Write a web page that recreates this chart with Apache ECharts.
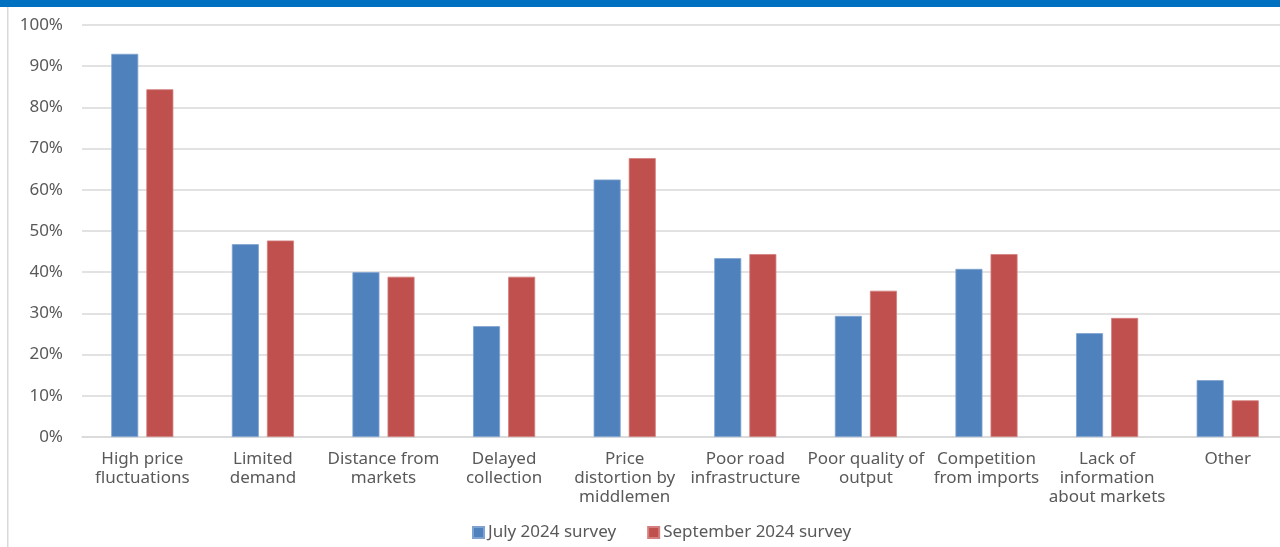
<!DOCTYPE html>
<html>
<head>
<meta charset="utf-8">
<style>
  html, body { margin: 0; padding: 0; background: #fff; }
  #chart { width: 1280px; height: 547px; }
</style>
<script src="https://cdn.jsdelivr.net/npm/echarts@6/dist/echarts.min.js"></script>
</head>
<body>
<div id="chart"></div>
<script>
// Reasons reported for difficulty selling output (share of respondents, %)
const categories = [
  'High price\nfluctuations',
  'Limited\ndemand',
  'Distance from\nmarkets',
  'Delayed\ncollection',
  'Price\ndistortion by\nmiddlemen',
  'Poor road\ninfrastructure',
  'Poor quality of\noutput',
  'Competition\nfrom imports',
  'Lack of\ninformation\nabout markets',
  'Other'
];
const july2024 = [93.0, 46.8, 40.0, 26.9, 62.5, 43.4, 29.4, 40.8, 25.2, 13.8];
const sept2024 = [84.4, 47.7, 38.9, 38.9, 67.7, 44.4, 35.5, 44.4, 28.9, 8.9];
const seriesNames = ['July 2024 survey', 'September 2024 survey'];

const textColor = '#595959';
const fontFamily = '"Noto Sans", "Open Sans", sans-serif';

const chart = echarts.init(document.getElementById('chart'), null, { renderer: 'canvas' });
chart.setOption({
  animation: false,
  textStyle: { fontFamily: fontFamily },
  graphic: [
    { type: 'rect', shape: { x: 0, y: 0, width: 1280, height: 7 }, style: { fill: '#0070C0' } },
    { type: 'rect', shape: { x: 7, y: 7, width: 1.5, height: 540 }, style: { fill: '#D9D9D9' } }
  ],
  // plot area runs slightly past the right edge of the canvas
  grid: {
    left: 82, width: 1206, top: 25, bottom: 110,
    containLabel: false,
    outerBoundsMode: 'none'
  },
  legend: {
    bottom: 1,
    left: 467,
    itemWidth: 11,
    itemHeight: 11,
    itemGap: 31,
    icon: 'rect',
    textStyle: { color: textColor, fontSize: 17, fontFamily: fontFamily, padding: [0, 0, 0, -1] },
    data: seriesNames
  },
  xAxis: {
    type: 'category',
    data: categories,
    axisLine: { lineStyle: { color: '#D9D9D9', width: 1.5 } },
    axisTick: { show: false },
    axisLabel: {
      color: textColor,
      fontSize: 17,
      lineHeight: 19,
      margin: 13,
      interval: 0,
      fontFamily: fontFamily
    }
  },
  yAxis: {
    type: 'value',
    min: 0,
    max: 100,
    interval: 10,
    axisLine: { show: false },
    axisTick: { show: false },
    splitLine: { lineStyle: { color: '#D9D9D9', width: 1.5 } },
    axisLabel: {
      color: textColor,
      fontSize: 17,
      margin: 19,
      formatter: '{value}%',
      fontFamily: fontFamily
    }
  },
  series: [
    {
      name: seriesNames[0],
      type: 'bar',
      data: july2024,
      barWidth: 27,
      barGap: '30%',
      itemStyle: { color: '#4F81BD', borderColor: '#7FA3D0', borderWidth: 0.8 }
    },
    {
      name: seriesNames[1],
      type: 'bar',
      data: sept2024,
      barWidth: 27,
      barGap: '30%',
      itemStyle: { color: '#C0504D', borderColor: '#D27F7D', borderWidth: 0.8 }
    }
  ]
});
</script>
</body>
</html>
